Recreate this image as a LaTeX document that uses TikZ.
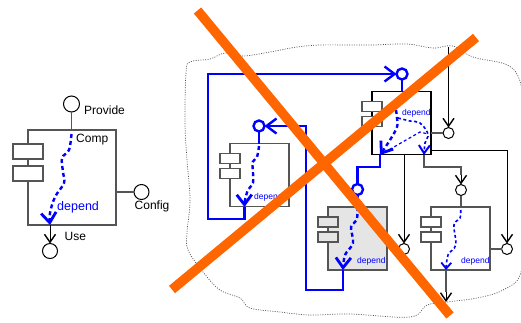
\documentclass[tikz,border=0pt]{standalone}
\usepackage{fontspec}
\setmainfont{Liberation Sans}
\usetikzlibrary{arrows.meta, positioning, calc}
\definecolor{boxgray}{HTML}{555555}
\definecolor{depblue}{HTML}{0000FF}
\definecolor{crossorange}{HTML}{FF6600}
\begin{document}
\begin{tikzpicture}[
    x=1pt, y=-1pt,
    compbox/.style={rectangle, draw=boxgray, line width=1.1pt, fill=white, minimum width=59pt, minimum height=63pt, inner sep=0pt, outer sep=0pt},
    portbox/.style={rectangle, draw=boxgray, line width=1.1pt, fill=white, minimum width=20pt, minimum height=10pt, inner sep=0pt, outer sep=0pt},
    iface/.style={circle, draw=black, line width=1pt, fill=white, minimum size=11pt, inner sep=0pt, outer sep=0pt},
    ifaceblue/.style={iface, draw=depblue, line width=2.4pt},
    wire/.style={draw=boxgray, line width=1.2pt},
    uselink/.style={draw=black, line width=1pt, -{Straight Barb[length=8pt, width=11pt, line width=1.4pt]}},
    bluelink/.style={draw=depblue, line width=2.6pt},
    bluearrow/.style={bluelink, -{Straight Barb[length=10pt, width=15pt, line width=2.4pt]}},
    deplink/.style={draw=depblue, line width=2.4pt, dash pattern=on 4pt off 3pt, -{Straight Barb[length=10pt, width=15pt, line width=2.8pt]}},
    depsmall/.style={draw=depblue, line width=1.6pt, dash pattern=on 3pt off 2.5pt, -{Straight Barb[length=6pt, width=10pt, line width=1.8pt]}},
    lbl/.style={font=\fontsize{12}{14}\selectfont, inner sep=0pt, anchor=west},
    deplbl/.style={font=\fontsize{8.5}{10}\selectfont, text=depblue, inner sep=0pt, anchor=west},
    cross/.style={draw=crossorange, line width=9.5pt}
]
\useasboundingbox (0,0) rectangle (521,322);

% Cloud
\draw[draw=boxgray, line width=0.7pt, dash pattern=on 1pt off 1.4pt] plot[smooth cycle, tension=0.6] coordinates {
    (190,62) (210,59) (225,53) (243,56) (270,52) (297,47) (320,45) (350,45) (373,45) (407,44)
    (433,48) (453,46) (473,57) (505,64) (518,76) (523,100) (526,150) (523,213) (521,272) (503,290)
    (477,298) (447,302) (427,305) (410,317) (350,314) (310,315) (280,312) (250,308) (240,298)
    (220,290) (203,272) (188,250) (187,233) (190,200) (187,160) (185,123) (186,73)};

% Left component
\node[compbox, minimum width=88pt, minimum height=95pt] (Comp) at (72,177.5) {};
\node[portbox, minimum width=30pt, minimum height=15pt] (CompP1) at ($(Comp.north west)+(0,21.5)$) {};
\node[portbox, minimum width=30pt, minimum height=15pt] (CompP2) at ($(Comp.north west)+(0,43.5)$) {};
\node[iface, minimum size=16pt] (Provide) at (71.5,104) {};
\node[iface, minimum size=15pt] (Config) at (141.5,192) {};
\node[iface, minimum size=15pt] (Use) at (50,251) {};
\coordinate (CompOut) at (Use |- Comp.south);
\coordinate (CompIn) at (Provide |- Comp.north);
\draw[wire] (Provide) -- (CompIn);
\draw[wire] (Comp.east |- Config) -- (Config);
\draw[uselink] (CompOut) -- (Use.north);
\draw[deplink] plot[smooth, tension=0.6] coordinates {(71.5,134) (69,150) (62,158) (63,172) (64,183) (55,197) (50,213) (CompOut)};
\node[lbl] at (84,110.5) {Provide};
\node[lbl] at (76,140) {Comp};
\node[lbl] at (134.5,206) {Config};
\node[lbl] at (64.5,236) {Use};
\node[lbl, text=depblue, font=\fontsize{12.5}{14}\selectfont] at (57,207) {depend};

% Component A
\node[compbox] (CompA) at (259.5,175) {};
\node[portbox] (A1) at ($(CompA.north west)+(0,15)$) {};
\node[portbox] (A2) at ($(CompA.north west)+(0,30)$) {};
\node[ifaceblue] (ProvA) at (259,126) {};
\coordinate (AIn) at (ProvA |- CompA.north);
\coordinate (AOut) at (244.5,207);
\draw[bluelink] (ProvA) -- (AIn);
\draw[deplink] plot[smooth, tension=0.6] coordinates {(259,146) (257,157) (252.7,162) (253,173) (253,183) (248,190) (245,200) (AOut)};
\node[deplbl] at (254,197) {depend};

% Component B
\node[compbox, draw=black] (CompB) at (401.5,123) {};
\node[portbox] (B1) at ($(CompB.north west)+(0,15)$) {};
\node[portbox] (B2) at ($(CompB.north west)+(0,30)$) {};
\node[ifaceblue] (ProvB) at (402,74) {};
\node[iface] (ConfB) at (448.5,133) {};
\coordinate (BIn) at (ProvB |- CompB.north);
\coordinate (BOut) at (380,155);
\coordinate (BOut2) at (424,155);
\coordinate (TopIn) at (448.5,47);
\draw[bluelink] (ProvB) -- (BIn);
\draw[wire] (CompB.east |- ConfB) -- (ConfB);
\node[deplbl] at (402,113) {depend};
\draw[deplink] plot[smooth, tension=0.6] coordinates {(396,110) (397,118) (397,127) (390,140) (BOut)};
\draw[depsmall, -{Straight Barb[length=8pt, width=11pt, line width=2pt]}] plot[smooth, tension=0.6] coordinates {(398,118) (410,121) (420,123) (428,134) (425,143) (BOut2)};
\draw[depblue, line width=1.2pt, dash pattern=on 3pt off 2.5pt] (BOut) -- (420,132) -- (428,134);

% Component C
\node[compbox, fill=black!10] (CompC) at (357.5,238.5) {};
\node[portbox, fill=black!10] (C1) at ($(CompC.north west)+(0,15)$) {};
\node[portbox, fill=black!10] (C2) at ($(CompC.north west)+(0,30)$) {};
\node[ifaceblue] (ProvC) at (357.5,189.5) {};
\node[iface] (ConfC) at (404,249) {};
\coordinate (CIn) at (ProvC |- CompC.north);
\coordinate (COut) at (343,270);
\draw[bluelink] (ProvC) -- (CIn);
\draw[deplink] plot[smooth, tension=0.6] coordinates {(CIn) (356.7,220) (351,227) (353,243) (345,255) (COut)};
\node[deplbl] at (357,261) {depend};

% Component D
\node[compbox] (CompD) at (460.5,238.5) {};
\node[portbox] (D1) at ($(CompD.north west)+(0,15)$) {};
\node[portbox] (D2) at ($(CompD.north west)+(0,30)$) {};
\node[iface] (ProvD) at (461,190) {};
\node[iface] (ConfD) at (507,249) {};
\coordinate (DIn) at (ProvD |- CompD.north);
\coordinate (DOut) at (446,270);
\coordinate (DEnd) at (446,302);
\draw[wire] (ProvD) -- (DIn);
\draw[wire] (CompD.east |- ConfD) -- (ConfD);
\draw[depsmall] plot[smooth, tension=0.6] coordinates {(460.7,210) (460,218) (454,225) (455.7,245) (448,255) (DOut)};
\node[deplbl] at (461,261) {depend};
\draw[wire] (DOut) -- ++(0,22) coordinate (DMid);
\draw[uselink] (DMid) -- (DEnd);

% Blue links
\draw[bluearrow] (AOut) -- ++(0,12) -| (208,74) -- (ProvB.west);
\draw[bluearrow] (COut) -- ++(0,20) -| (306,126) -- (ProvA.east);
\draw[bluelink] (BOut) -- ++(0,12) -| (ProvC.north);

% Black links
\draw[uselink] (TopIn) -- (ConfB.north);
\draw[uselink] (CompB.south -| ConfC) -- (ConfC.north);
\draw[wire] (BOut2) -- ++(0,12) -| ($(ProvD.north)+(0,-10)$);
\draw[uselink] ($(ProvD.north)+(0,-10)$) -- (ProvD.north);
\draw[uselink] (CompB.east |- 0,150) -| (ConfD.north);

% Cross
\coordinate (CrossA) at (197.5,10.5);
\coordinate (CrossB) at (450,315.5);
\coordinate (CrossC) at (172,289.5);
\coordinate (CrossD) at (476,37.5);
\draw[cross] (CrossA) -- (CrossB);
\draw[cross] (CrossC) -- (CrossD);
\end{tikzpicture}
\end{document}
